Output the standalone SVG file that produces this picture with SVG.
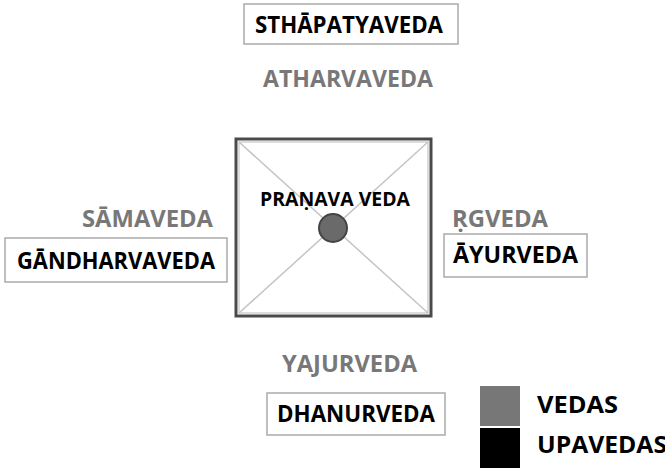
<svg xmlns="http://www.w3.org/2000/svg" width="665" height="468" viewBox="0 0 665 468">
<style>
text{font-family:"Open Sans","Liberation Sans",sans-serif;font-weight:bold;}
.veda{fill:#787878;font-size:24px;}
.upa{fill:#000;font-size:24px;}
.box{fill:#fff;stroke:#aaa;stroke-width:1.5;}
.diag{stroke:#c4c4c4;stroke-width:1.5;}
</style>
<rect width="665" height="468" fill="#fff"/>
<g id="pranava">
  <rect x="236" y="139" width="195" height="177" fill="#fff" stroke="#4a4a4a" stroke-width="3"/>
  <rect x="239" y="142" width="189" height="171" fill="none" stroke="#bbb" stroke-width="1"/>
  <line class="diag" x1="239" y1="142" x2="428" y2="313"/>
  <line class="diag" x1="428" y1="142" x2="239" y2="313"/>
  <text x="260" y="206" font-size="19" textLength="150" lengthAdjust="spacingAndGlyphs">PRAṆAVA VEDA</text>
  <circle cx="333" cy="228" r="14" fill="#6a6a6a" stroke="#444" stroke-width="2"/>
</g>
<g id="sthapatyaveda">
  <rect class="box" x="244" y="4" width="214" height="40"/>
  <text class="upa" x="255" y="33" textLength="188" lengthAdjust="spacingAndGlyphs">STHĀPATYAVEDA</text>
</g>
<g id="atharvaveda">
  <text class="veda" x="263" y="87" textLength="170" lengthAdjust="spacingAndGlyphs">ATHARVAVEDA</text>
</g>
<g id="samaveda">
  <text class="veda" x="82" y="227" textLength="131" lengthAdjust="spacingAndGlyphs">SĀMAVEDA</text>
</g>
<g id="gandharvaveda">
  <rect class="box" x="5" y="238" width="222" height="44"/>
  <text class="upa" x="17" y="269" textLength="198" lengthAdjust="spacingAndGlyphs">GĀNDHARVAVEDA</text>
</g>
<g id="rgveda">
  <text class="veda" x="452" y="227" textLength="96" lengthAdjust="spacingAndGlyphs">ṚGVEDA</text>
</g>
<g id="ayurveda">
  <rect class="box" x="444" y="234" width="143" height="43"/>
  <text class="upa" x="453" y="263" textLength="125" lengthAdjust="spacingAndGlyphs">ĀYURVEDA</text>
</g>
<g id="yajurveda">
  <text class="veda" x="282" y="372" textLength="135" lengthAdjust="spacingAndGlyphs">YAJURVEDA</text>
</g>
<g id="dhanurveda">
  <rect class="box" x="267" y="393" width="178" height="42"/>
  <text class="upa" x="277" y="422" textLength="158" lengthAdjust="spacingAndGlyphs">DHANURVEDA</text>
</g>
<g id="legend">
  <rect x="480" y="386" width="40" height="40" fill="#777"/>
  <rect x="480" y="428" width="40" height="40" fill="#000"/>
  <text class="upa" x="537" y="413" textLength="81" lengthAdjust="spacingAndGlyphs">VEDAS</text>
  <text class="upa" x="537" y="453" textLength="130" lengthAdjust="spacingAndGlyphs">UPAVEDAS</text>
</g>
</svg>
